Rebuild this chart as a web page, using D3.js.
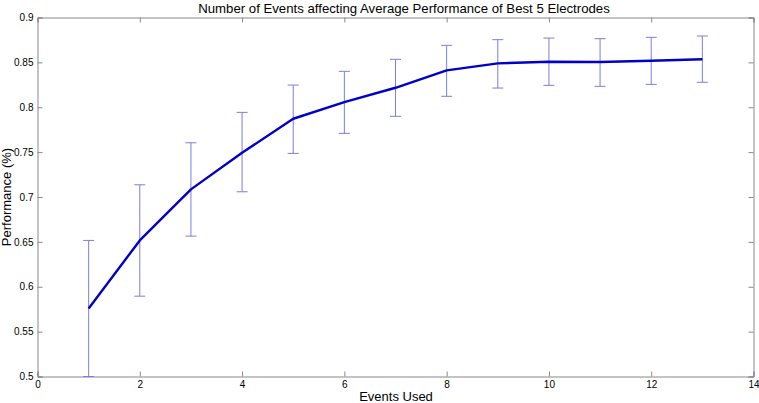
<!DOCTYPE html>
<html><head><meta charset="utf-8">
<script src="https://cdn.jsdelivr.net/npm/d3@7"></script>
<style>body{margin:0;background:#fff}svg{display:block}text{font-family:"Liberation Sans",Arial,sans-serif}</style>
</head><body>
<svg id="c" width="759" height="403"></svg>
<script>
const events = [1,2,3,4,5,6,7,8,9,10,11,12,13];
const performance = [0.5758,0.6516,0.7085,0.7493,0.7872,0.8058,0.8217,0.8411,0.8489,0.8507,0.8504,0.8518,0.8534];
const upper = [0.6516,0.7136,0.7604,0.7943,0.8247,0.8400,0.8534,0.8690,0.8753,0.8771,0.8764,0.8779,0.8794];
const lower = [0.5000,0.5895,0.6564,0.7058,0.7486,0.7709,0.7899,0.8122,0.8214,0.8244,0.8233,0.8255,0.8278];
const xTicks = [0,2,4,6,8,10,12,14];
const yTicks = [0.5,0.55,0.6,0.65,0.7,0.75,0.8,0.85,0.9];

const L=37.5,R=753.5,T=17.5,B=376.5;
const svg=d3.select("#c");
const x=d3.scaleLinear().domain([0,14]).range([L,R]);
const y=d3.scaleLinear().domain([0.5,0.9]).range([B,T]);
const axisColor="#888";

const fmt=d=>String(+d.toFixed(2));
const gB=svg.append("g").attr("transform",`translate(0,${B})`)
 .call(d3.axisBottom(x).tickValues(xTicks).tickSize(-5).tickPadding(4).tickFormat(d=>d));
const gT=svg.append("g").attr("transform",`translate(0,${T})`)
 .call(d3.axisTop(x).tickValues(xTicks).tickSize(-5).tickFormat(""));
const gL=svg.append("g").attr("transform",`translate(${L},0)`)
 .call(d3.axisLeft(y).tickValues(yTicks).tickSize(-5).tickPadding(4).tickFormat(fmt));
const gR=svg.append("g").attr("transform",`translate(${R},0)`)
 .call(d3.axisRight(y).tickValues(yTicks).tickSize(-5).tickFormat(""));
[gB,gT,gL,gR].forEach(g=>{
  g.select(".domain").attr("stroke",axisColor);
  g.selectAll(".tick line").attr("stroke",axisColor);
  g.selectAll("text").attr("fill","#000").style("font-size","10px").style("font-family",'"Liberation Sans",Arial,sans-serif');
});

// error bars
const eb=svg.append("g").attr("stroke","#7d7de0").attr("stroke-width",1).attr("fill","none");
events.forEach((e,i)=>{
  eb.append("line").attr("x1",x(e)).attr("x2",x(e)).attr("y1",y(upper[i])).attr("y2",y(lower[i]));
  eb.append("line").attr("x1",x(e)-5.5).attr("x2",x(e)+5.5).attr("y1",y(upper[i])).attr("y2",y(upper[i]));
  eb.append("line").attr("x1",x(e)-5.5).attr("x2",x(e)+5.5).attr("y1",y(lower[i])).attr("y2",y(lower[i]));
});
svg.append("path").datum(events.map((e,i)=>[e,performance[i]]))
 .attr("fill","none").attr("stroke","#0000c8").attr("stroke-width",2.4).attr("stroke-linejoin","round")
 .attr("d",d3.line().x(d=>x(d[0])).y(d=>y(d[1])));

svg.append("text").attr("x",404).attr("y",13).attr("text-anchor","middle").style("font-size","13.2px").text("Number of Events affecting Average Performance of Best 5 Electrodes");
svg.append("text").attr("x",396).attr("y",401).attr("text-anchor","middle").style("font-size","13px").text("Events Used");
svg.append("text").attr("transform",`translate(11,${(T+B)/2}) rotate(-90)`).attr("text-anchor","middle").style("font-size","13px").text("Performance (%)");
</script>
</body></html>
